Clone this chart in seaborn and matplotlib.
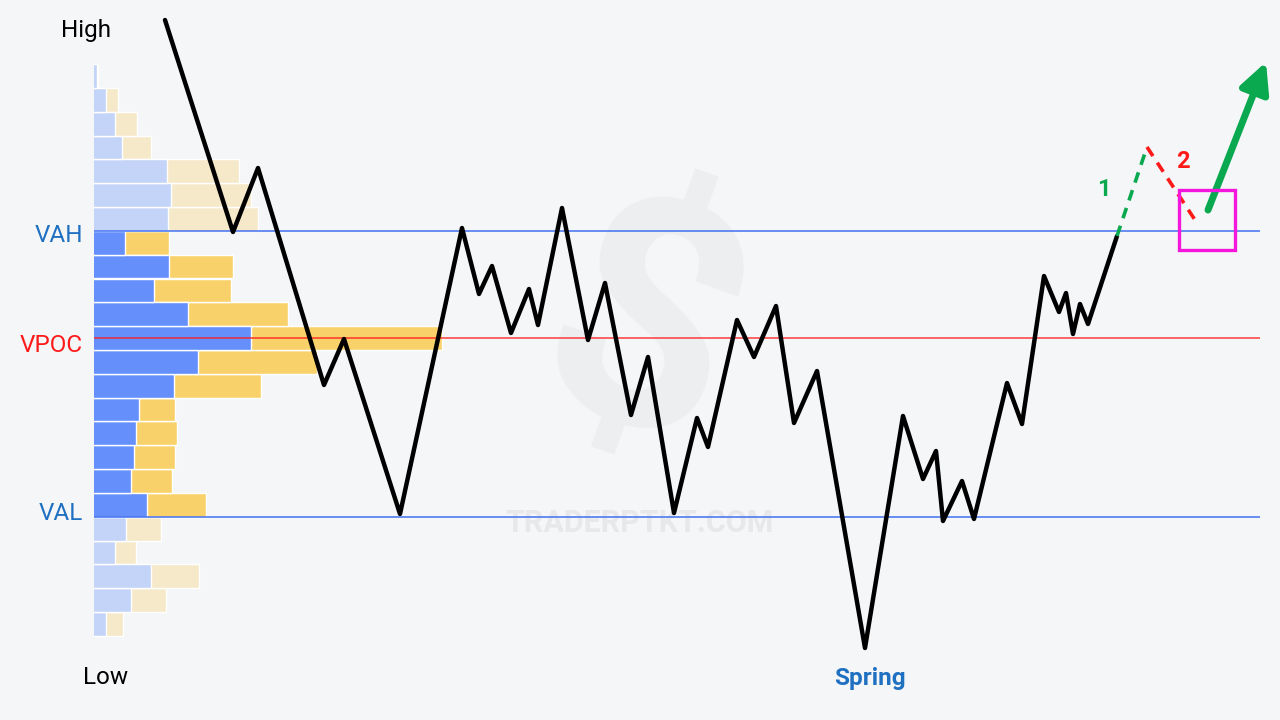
import matplotlib

matplotlib.use("Agg")
import matplotlib.pyplot as plt
import numpy as np
import pandas as pd
import seaborn as sns

# volume profile rows, top to bottom (price = row centre)
price_levels = [644.1, 620.3, 596.4, 572.6, 548.8, 525.0, 501.1, 477.3, 453.5, 429.6, 405.8, 382.0,
                358.1, 334.3, 310.5, 286.7, 262.8, 239.0, 215.2, 191.3, 167.5, 143.7, 119.8, 96.0]
buy_volume = [3, 12, 21, 28, 73, 77, 74, 31, 75, 60, 94, 157,
              104, 80, 45, 42, 40, 37, 53, 32, 21, 57, 37, 12]
sell_volume = [1, 12, 22, 29, 72, 80, 90, 44, 64, 77, 100, 191,
               119, 87, 36, 41, 41, 41, 59, 35, 21, 48, 35, 17]

# key levels
vah_price = 489.2
vpoc_price = 382.0
val_price = 203.2

# price path (time, price)
path_time = [165, 233, 258, 324, 344, 400, 462, 479, 492, 511, 529, 538, 562, 588, 605, 631, 648, 674,
             697, 708, 737, 754, 776, 794, 817, 865, 903, 923, 936, 943, 962, 974, 1007, 1022, 1044,
             1059, 1066, 1073, 1080, 1088, 1117]
path_price = [700, 488, 552, 335, 381, 206, 492, 426, 454, 387, 431, 395, 512, 380, 437, 305, 363, 207,
              302, 273, 400, 363, 414, 297, 349, 72, 304, 241, 269, 199, 239, 201, 337, 296, 444,
              408, 427, 386, 416, 396, 484]

# projected moves
leg1_time = [1117, 1147]
leg1_price = [484, 573]
leg2_time = [1147, 1197]
leg2_price = [573, 497]
breakout_time = [1208, 1266]
breakout_price = [510, 658]
entry_box = (1179, 1235, 470, 530)  # time from/to, price from/to

BG = "#f4f6f8"
BLUE_IN, BLUE_OUT = "#658ffb", "#c4d4f8"
YELLOW_IN, YELLOW_OUT = "#f9d16b", "#f6e9c9"
LEVEL_BLUE = "#3d6ef0"
TEXT_BLUE = "#1f70c1"
GREEN = "#0aa84f"
RED = "#ff1a1a"

sns.set_theme(style="white")
plt.rcParams["font.family"] = ["Roboto", "DejaVu Sans"]

profile = pd.DataFrame({"price": price_levels, "buy": buy_volume, "sell": sell_volume})
profile["total"] = profile["buy"] + profile["sell"]
profile["zone"] = np.where((profile["price"] < vah_price) & (profile["price"] > val_price), "inside", "outside")
profile["buy"] = profile["buy"] + 94
profile["total"] = profile["total"] + 94

fig = plt.figure(figsize=(12.8, 7.2), dpi=100, facecolor=BG)
ax = fig.add_axes([0, 0, 1, 1])
ax.set_facecolor(BG)

# watermark
ax.text(640, 197, "TRADERPTKT.COM", ha="center", va="center", fontsize=22, fontweight="bold", color="#e7e8ea", zorder=0)
ax.text(640, 380, "$", ha="center", va="center", fontsize=230, fontweight="bold", color="#eceef0", rotation=-20, zorder=0)

sns.barplot(data=profile, x="total", y="price", hue="zone", orient="h", native_scale=True, dodge=False,
            palette={"inside": YELLOW_IN, "outside": YELLOW_OUT}, width=1.0, edgecolor="white", linewidth=1,
            saturation=1, legend=False, ax=ax, zorder=2)
sns.barplot(data=profile, x="buy", y="price", hue="zone", orient="h", native_scale=True, dodge=False,
            palette={"inside": BLUE_IN, "outside": BLUE_OUT}, width=1.0, edgecolor="white", linewidth=1,
            saturation=1, legend=False, ax=ax, zorder=2)
# bars start at the left edge of the profile, so cover the part left of it
ax.axvspan(0, 94, color=BG, zorder=2.5, lw=0)

ax.hlines([vah_price, val_price], 94, 1260, colors=LEVEL_BLUE, lw=1.2, zorder=3, alpha=0.9)
ax.hlines(vpoc_price, 94, 1260, colors=RED, lw=1.1, zorder=3, alpha=0.85)

sns.lineplot(x=path_time, y=path_price, sort=False, estimator=None, color="black", lw=3.2, ax=ax, zorder=4)
sns.lineplot(x=leg1_time, y=leg1_price, sort=False, estimator=None, color=GREEN, lw=2.6, ax=ax, zorder=4,
             linestyle=(0, (3, 2.2)))
sns.lineplot(x=leg2_time, y=leg2_price, sort=False, estimator=None, color=RED, lw=2.6, ax=ax, zorder=4,
             linestyle=(0, (3, 2.2)))

ax.annotate("", xy=(breakout_time[1], breakout_price[1]), xytext=(breakout_time[0], breakout_price[0]),
            arrowprops=dict(arrowstyle="-|>", color=GREEN, lw=5, mutation_scale=45, shrinkA=0, shrinkB=0,
                            capstyle="round"), zorder=5)

x0, x1, y0, y1 = entry_box
ax.add_patch(plt.Rectangle((x0, y0), x1 - x0, y1 - y0, fill=False, edgecolor="#f516dd", lw=2.4, zorder=5))

ax.text(1104, 531, "1", color=GREEN, fontsize=17, fontweight="bold", ha="center", va="center")
ax.text(1183, 558, "2", color=RED, fontsize=17, fontweight="bold", ha="center", va="center")

ax.text(86, 689, "High", color="black", fontsize=17.5, ha="center", va="center")
ax.text(106, 43, "Low", color="black", fontsize=17.5, ha="center", va="center")
ax.text(83, 484, "VAH", color=TEXT_BLUE, fontsize=17.5, ha="right", va="center")
ax.text(83, 375, "VPOC", color=RED, fontsize=17.5, ha="right", va="center")
ax.text(83, 206, "VAL", color=TEXT_BLUE, fontsize=17.5, ha="right", va="center")
ax.text(870, 42, "Spring", color=TEXT_BLUE, fontsize=17.5, fontweight="bold", ha="center", va="center")

ax.set_xlim(0, 1280)
ax.set_ylim(0, 720)
ax.axis("off")

fig.savefig("out.png", dpi=100, facecolor=BG)
